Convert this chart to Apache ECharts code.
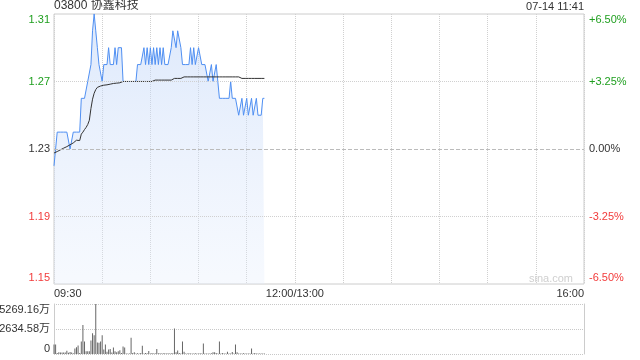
<!DOCTYPE html>
<html>
<head>
<meta charset="utf-8">
<script src="https://cdn.jsdelivr.net/npm/echarts@6/dist/echarts.min.js"></script>
<style>html,body{margin:0;padding:0;background:#fff;}#c{width:640px;height:360px;}</style>
</head>
<body>
<div id="c"></div>
<script>
// ---- data ----
const stockTitle = '03800 协鑫科技';
const stampText = '07-14 11:41';
const prevClose = 1.23;
const timeTickMinutes = [0, 150, 330];
const timeTickLabels = ['09:30', '12:00/13:00', '16:00'];
const priceTickLabels = ['1.15', '1.19', '1.23', '1.27', '1.31'];
const pctTickLabels = ['-6.50%', '-3.25%', '0.00%', '+3.25%', '+6.50%'];
const volTickLabels = ['0', '2634.58万', '5269.16万'];
const volMax = 5269.16;

// one value per minute from 09:30
const price = [
1.22,1.23,1.24,1.24,1.24,1.24,1.24,1.24,1.24,1.24,
1.23,1.23,1.24,1.24,1.24,1.24,1.24,1.26,1.26,1.26,
1.26,1.27,1.27,1.28,1.30,1.31,1.30,1.29,1.28,1.28,
1.27,1.28,1.28,1.28,1.29,1.28,1.28,1.28,1.29,1.28,
1.29,1.29,1.29,1.27,1.27,1.27,1.27,1.27,1.27,1.27,
1.27,1.27,1.28,1.28,1.28,1.28,1.29,1.28,1.29,1.28,
1.29,1.28,1.29,1.28,1.29,1.28,1.29,1.28,1.29,1.28,
1.28,1.28,1.28,1.29,1.30,1.30,1.29,1.30,1.30,1.29,
1.28,1.28,1.28,1.28,1.28,1.29,1.28,1.29,1.28,1.28,
1.29,1.29,1.28,1.28,1.28,1.28,1.27,1.27,1.28,1.27,
1.27,1.28,1.27,1.26,1.26,1.26,1.26,1.26,1.26,1.26,
1.27,1.26,1.26,1.26,1.26,1.25,1.25,1.26,1.25,1.25,
1.26,1.25,1.25,1.26,1.25,1.25,1.26,1.25,1.25,1.25,
1.26,1.26
];
const avgPrice = [
1.2276,1.2281,1.2285,1.2290,1.2295,1.2300,1.2305,1.2310,1.2314,1.2319,
1.2325,1.2329,1.2336,1.2343,1.2352,1.2345,1.2350,1.2388,1.2400,1.2415,
1.2428,1.2445,1.2470,1.2540,1.2595,1.2630,1.2652,1.2665,1.2670,1.2673,
1.2676,1.2678,1.2679,1.2680,1.2681,1.2684,1.2686,1.2688,1.2689,1.2690,
1.2691,1.2692,1.2693,1.2700,1.2700,1.2700,1.2700,1.2700,1.2700,1.2700,
1.2700,1.2700,1.2700,1.2700,1.2700,1.2700,1.2700,1.2700,1.2700,1.2700,
1.2700,1.2700,1.2700,1.2708,1.2708,1.2708,1.2708,1.2708,1.2708,1.2708,
1.2708,1.2708,1.2708,1.2708,1.2708,1.2718,1.2718,1.2718,1.2718,1.2718,
1.2727,1.2727,1.2727,1.2727,1.2727,1.2727,1.2727,1.2727,1.2727,1.2727,
1.2727,1.2727,1.2727,1.2727,1.2727,1.2727,1.2727,1.2727,1.2727,1.2727,
1.2727,1.2727,1.2727,1.2727,1.2727,1.2727,1.2727,1.2727,1.2727,1.2727,
1.2727,1.2727,1.2727,1.2727,1.2727,1.2727,1.2718,1.2718,1.2718,1.2718,
1.2718,1.2718,1.2718,1.2718,1.2718,1.2718,1.2718,1.2718,1.2718,1.2718,
1.2718,1.2718
];
const volume = [
1000,1000,100,180,150,150,150,150,350,120,
200,150,80,570,720,900,100,1330,3050,1330,
290,290,290,1430,2190,1970,5269.16,1220,1180,1330,
1970,470,1000,250,470,540,150,680,290,180,
290,400,100,790,680,50,60,50,1720,100,
180,60,70,40,100,860,60,100,80,320,
60,100,50,80,540,70,80,60,90,70,
50,80,60,70,90,2690,180,360,100,60,
1330,250,60,50,70,40,60,50,80,40,
60,70,50,1110,50,40,60,50,70,180,
180,100,50,1330,40,100,40,60,250,50,
40,220,50,1000,180,60,40,50,70,40,
60,50,40,570,50,100,40,60,50,40,
60,50
];

// ---- chart ----
const FONT = "'Liberation Sans', Arial, 'Noto Sans CJK SC', sans-serif";
const GREEN = '#1f9f1f', RED = '#f23b3b', DARK = '#333';
const toPct = p => (p - prevClose) / prevClose * 100;
const priceSeries = price.map((p, i) => [i, toPct(p)]);
const avgSeries = avgPrice.map((p, i) => [i, toPct(p)]);
const volSeries = volume.map((v, i) => [i, v]);
const pctStyle = ['rb', 'r', 'n', 'g', 'gt'];
const volStyle = ['vb', 'v', 'vt'];
const base = {fontSize: 11, fontFamily: FONT};
const richPct = {
  gt: Object.assign({color: GREEN, padding: [12, 0, 0, 0]}, base),
  g: Object.assign({color: GREEN}, base),
  n: Object.assign({color: DARK}, base),
  r: Object.assign({color: RED}, base),
  rb: Object.assign({color: RED, padding: [0, 0, 12, 0]}, base)
};
const richVol = {
  vt: Object.assign({color: DARK, padding: [12, 0, 0, 0]}, base),
  v: Object.assign({color: DARK}, base),
  vb: Object.assign({color: DARK, padding: [0, 0, 10, 0]}, base)
};
const tickIdx = v => Math.round(v / 3.25) + 2;

const chart = echarts.init(document.getElementById('c'), null, {renderer: 'canvas'});
chart.setOption({
  animation: false,
  backgroundColor: '#fff',
  textStyle: {fontFamily: FONT},
  title: [
    {text: stockTitle, left: 54, top: 0, padding: 0,
     textStyle: {fontSize: 12, fontWeight: 'normal', color: DARK, fontFamily: FONT}},
    {text: stampText, right: 56, top: 1, padding: 0,
     textStyle: {fontSize: 11, fontWeight: 'normal', color: DARK, fontFamily: FONT}},
    {text: 'sina.com', right: 67, top: 273, padding: 0,
     textStyle: {fontSize: 11, fontWeight: 'normal', color: '#cfcfcf', fontFamily: FONT}}
  ],
  grid: [
    {left: 54, right: 56, top: 14, height: 270, show: true, borderColor: '#cccccc', borderWidth: 1,
     containLabel: false, outerBoundsMode: 'none'},
    {left: 54, right: 56, top: 304, height: 50, show: false, containLabel: false, outerBoundsMode: 'none'}
  ],
  xAxis: [
    {type: 'value', gridIndex: 0, min: 0, max: 330, interval: 30,
     axisLine: {show: false}, axisTick: {show: false},
     splitLine: {show: true, lineStyle: {color: '#d0d0d0', type: 'dotted', width: 1}},
     axisLabel: {show: true, margin: 4, color: DARK, fontSize: 11, fontFamily: FONT,
       showMinLabel: true, showMaxLabel: true, alignMinLabel: 'left', alignMaxLabel: 'right',
       formatter: v => { const k = timeTickMinutes.indexOf(Math.round(v)); return k >= 0 ? timeTickLabels[k] : ''; }}},
    {type: 'value', gridIndex: 1, min: 0, max: 330, interval: 30,
     axisLine: {show: false}, axisTick: {show: false}, axisLabel: {show: false}, splitLine: {show: false}}
  ],
  yAxis: [
    {type: 'value', gridIndex: 0, min: -6.5, max: 6.5, interval: 3.25, position: 'left',
     axisLine: {show: false}, axisTick: {show: false}, splitLine: {show: false},
     axisLabel: {margin: 4, formatter: v => { const k = tickIdx(v); return '{' + pctStyle[k] + '|' + priceTickLabels[k] + '}'; }, rich: richPct}},
    {type: 'value', gridIndex: 0, min: -6.5, max: 6.5, interval: 3.25, position: 'right',
     axisLine: {show: false}, axisTick: {show: false}, splitLine: {show: false},
     axisLabel: {margin: 5, formatter: v => { const k = tickIdx(v); return '{' + pctStyle[k] + '|' + pctTickLabels[k] + '}'; }, rich: richPct}},
    {type: 'value', gridIndex: 1, min: 0, max: volMax, interval: volMax / 2, position: 'left',
     axisLine: {show: true, lineStyle: {color: '#cccccc', width: 1}}, axisTick: {show: false},
     splitLine: {show: true, lineStyle: {color: '#c8c8c8', type: 'dotted', width: 1}},
     axisLabel: {margin: 4, formatter: (v, i) => { const k = Math.round(v / (volMax / 2)); return '{' + volStyle[k] + '|' + volTickLabels[k] + '}'; }, rich: richVol}},
    {type: 'value', gridIndex: 1, min: 0, max: volMax, interval: volMax / 2, position: 'right',
     axisLine: {show: true, lineStyle: {color: '#cccccc', width: 1}}, axisTick: {show: false},
     splitLine: {show: false}, axisLabel: {show: false}}
  ],
  series: [
    {type: 'line', name: 'price', xAxisIndex: 0, yAxisIndex: 0, data: priceSeries,
     showSymbol: false, symbol: 'none', z: 3,
     lineStyle: {color: '#4f8ff2', width: 1},
     areaStyle: {origin: 'start', color: new echarts.graphic.LinearGradient(0, 0, 0, 1, [
       {offset: 0, color: 'rgba(190,212,248,0.75)'},
       {offset: 1, color: 'rgba(228,237,252,0.45)'}])},
     markLine: {silent: true, symbol: 'none', label: {show: false}, animation: false,
       data: [
         {yAxis: 0, lineStyle: {color: '#bbbbbb', type: [4, 2], width: 1}},
         {yAxis: 3.25, lineStyle: {color: '#d0d0d0', type: 'dotted', width: 1}},
         {yAxis: -3.25, lineStyle: {color: '#d0d0d0', type: 'dotted', width: 1}}
       ]}},
    {type: 'line', name: 'avg', xAxisIndex: 0, yAxisIndex: 0, data: avgSeries,
     showSymbol: false, symbol: 'none', z: 4,
     lineStyle: {color: '#333333', width: 1}},
    {type: 'bar', name: 'vol', xAxisIndex: 1, yAxisIndex: 2, data: volSeries,
     barWidth: 1, itemStyle: {color: '#666666'}}
  ]
});
</script>
</body>
</html>
